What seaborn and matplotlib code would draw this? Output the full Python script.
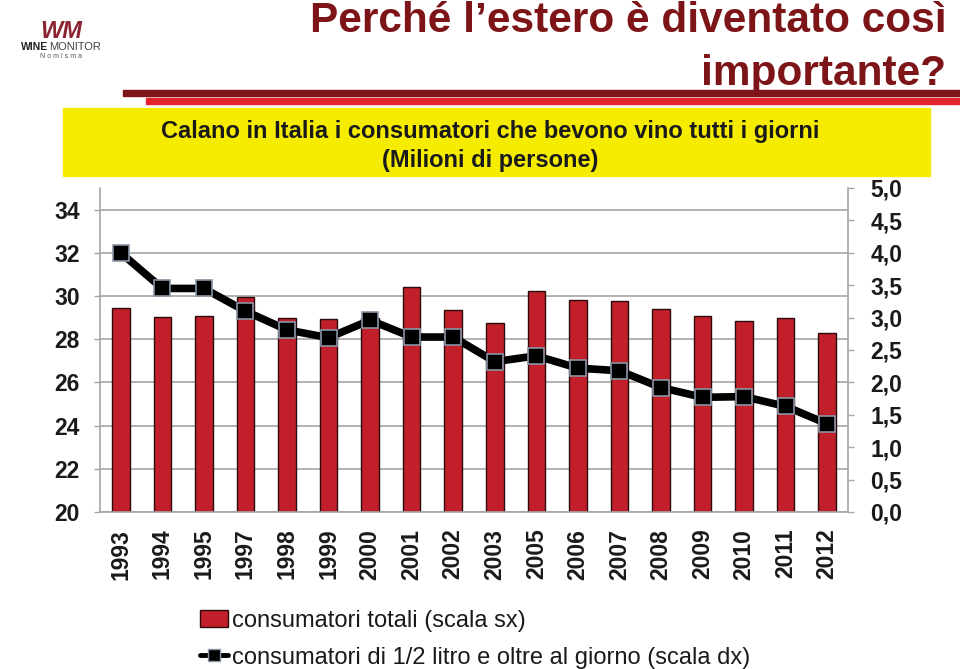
import matplotlib
matplotlib.use("Agg")
import matplotlib.pyplot as plt
import seaborn as sns
import pandas as pd
from matplotlib.patches import Patch, Rectangle
from matplotlib.lines import Line2D
from matplotlib.ticker import FuncFormatter

years = ["1993", "1994", "1995", "1997", "1998", "1999", "2000", "2001", "2002",
         "2003", "2005", "2006", "2007", "2008", "2009", "2010", "2011", "2012"]
totali = [29.46, 29.03, 29.06, 29.95, 28.98, 28.95, 29.0, 30.41, 29.35,
          28.77, 30.23, 29.80, 29.77, 29.41, 29.06, 28.85, 28.97, 28.28]
mezzo_litro = [4.00, 3.45, 3.45, 3.10, 2.81, 2.69, 2.96, 2.70, 2.70,
               2.32, 2.41, 2.22, 2.18, 1.92, 1.77, 1.78, 1.63, 1.36]
left_ticks = [20, 22, 24, 26, 28, 30, 32, 34]
right_ticks = [0.0, 0.5, 1.0, 1.5, 2.0, 2.5, 3.0, 3.5, 4.0, 4.5, 5.0]

title = "Perché l\u2019estero è diventato così\nimportante?"
subtitle = "Calano in Italia i consumatori che bevono vino tutti i giorni\n(Milioni di persone)"
label_bar = "consumatori totali (scala sx)"
label_line = "consumatori di 1/2 litro e oltre al giorno (scala dx)"

sns.set_theme(style="white")
plt.rcParams["font.family"] = ["Liberation Sans", "DejaVu Sans"]

BAR = "#C1202B"
DARKRED = "#7D1518"
GRID = "#A6A6A6"
TXT = "#1a1a1a"

df = pd.DataFrame({"anno": years, "totali": totali, "mezzo": mezzo_litro})

fig = plt.figure(figsize=(9.6, 6.69), dpi=100)
W, H = 960, 669
def fx(x): return x / W
def fy(y): return 1 - y / H

ax = fig.add_axes([fx(100), fy(512), fx(848) - fx(100), fy(188) - fy(512)])
sns.barplot(data=df, x="anno", y="totali", ax=ax, color=BAR, width=0.42,
            edgecolor="#2a0a0a", linewidth=1.0, saturation=1)
ax.set_ylim(20, 35)
ax.set_xlim(-0.5, len(years) - 0.5)
ax.set_yticks(left_ticks)
ax.yaxis.grid(True, color=GRID, linewidth=1.2)
ax.set_axisbelow(True)
ax.set_xlabel("")
ax.set_ylabel("")
ax.set_xticks(range(len(years)))
ax.set_xticklabels(years, rotation=90, fontsize=16.5, fontweight="bold", color=TXT)
ax.set_xticks([i - 0.5 for i in range(len(years) + 1)], minor=True)
ax.tick_params(axis="x", which="major", length=0, pad=12)
ax.tick_params(axis="x", which="minor", length=4.5, color=GRID, width=1, direction="out")
ax.tick_params(axis="y", which="major", length=4.5, color=GRID, width=1, direction="out",
               labelsize=16.5, pad=10, labelcolor=TXT)
for t in ax.get_yticklabels():
    t.set_fontweight("bold")
for s in ["top", "right"]:
    ax.spines[s].set_visible(False)
for s in ["left", "bottom"]:
    ax.spines[s].set_color(GRID)
    ax.spines[s].set_linewidth(1.2)

ax2 = ax.twinx()
sns.pointplot(data=df, x="anno", y="mezzo", ax=ax2, color="black", markers="s",
              markersize=12, linewidth=5.5, markeredgecolor="#8a94a6", markeredgewidth=1.2)
ax2.set_ylim(0, 5)
ax2.set_xlim(-0.5, len(years) - 0.5)
ax2.set_yticks(right_ticks)
ax2.yaxis.set_major_formatter(FuncFormatter(lambda v, p: f"{v:.1f}".replace(".", ",")))
ax2.set_ylabel("")
ax2.set_xlabel("")
ax2.grid(False)
ax2.tick_params(axis="y", length=4.5, color=GRID, width=1, direction="out",
                labelsize=16.5, pad=11.5, labelcolor=TXT)
for t in ax2.get_yticklabels():
    t.set_fontweight("bold")
for s in ["top", "left", "bottom"]:
    ax2.spines[s].set_visible(False)
ax2.spines["right"].set_color(GRID)
ax2.spines["right"].set_linewidth(1.2)

# header decorations
fig.patches.append(Rectangle((fx(123), fy(96)), 1 - fx(123), fy(90) - fy(96),
                             transform=fig.transFigure, color=DARKRED, zorder=1))
fig.patches.append(Rectangle((fx(146), fy(104)), 1 - fx(146), fy(98) - fy(104),
                             transform=fig.transFigure, color="#E3232B", zorder=1))
fig.patches.append(Rectangle((fx(63), fy(176)), fx(930) - fx(63), fy(108) - fy(176),
                             transform=fig.transFigure, color="#F6EC00", zorder=1))

fig.text(fx(946), fy(1), title, ha="right", va="top", fontsize=30.5, fontweight="bold",
         color=DARKRED, linespacing=1.42, multialignment="right")
fig.text(fx(490), fy(146), subtitle, ha="center", va="center", fontsize=17,
         fontweight="bold", color=TXT, linespacing=1.38)

# logo
fig.text(fx(61), fy(31), "WM", ha="center", va="center", fontsize=17, fontweight="bold",
         style="italic", color="#8B2332")
fig.text(fx(21), fy(47.5), "WINE", ha="left", va="center", fontsize=7.5, fontweight="bold",
         color="#222222")
fig.text(fx(49.5), fy(47.5), "MONITOR", ha="left", va="center", fontsize=8.0,
         color="#444444")
fig.text(fx(61), fy(56), "N o m i s m a", ha="center", va="center", fontsize=5,
         color="#555555")

handles = [Patch(facecolor=BAR, edgecolor="#2a0a0a", linewidth=1),
           Line2D([0], [0], color="black", linewidth=3.5, marker="s", markersize=8,
                  markeredgecolor="#8a94a6")]
fig.legend(handles, [label_bar, label_line], loc="upper left",
           bbox_to_anchor=(fx(200), fy(610)), frameon=False, fontsize=17,
           handlelength=1.2, handletextpad=0.15, labelspacing=0.62, borderaxespad=0,
           borderpad=0, labelcolor=TXT)

fig.savefig("out.png", dpi=100)
